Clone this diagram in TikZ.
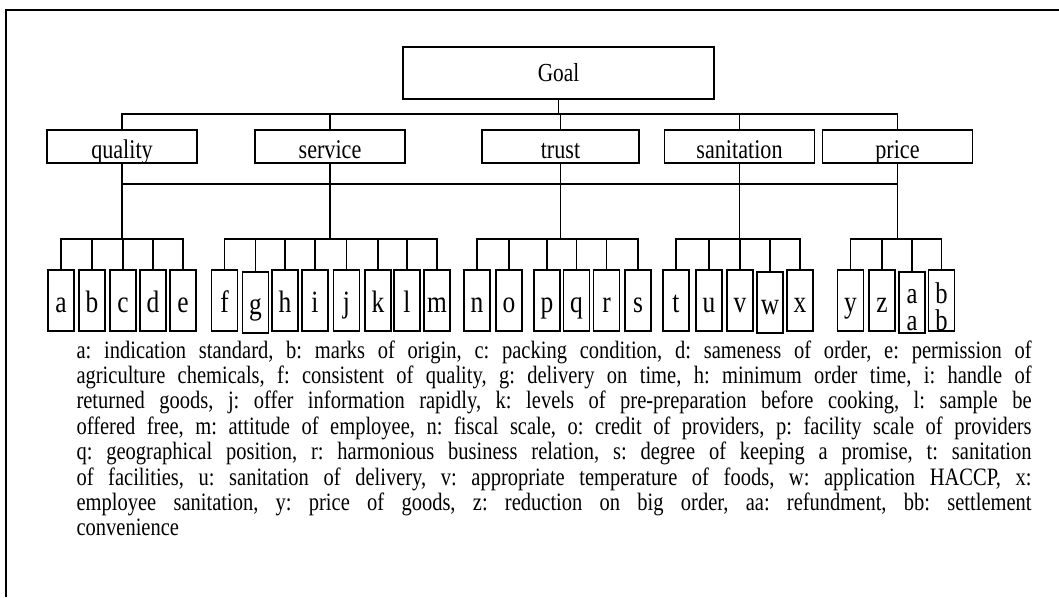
\documentclass[tikz,border=0pt]{standalone}
\usepackage{fontspec}
\setmainfont[FakeStretch=0.82]{Liberation Serif}
\usetikzlibrary{calc}
\tolerance=9999
\hbadness=10000
\frenchspacing

\begin{document}
\begin{tikzpicture}[x=1pt, y=-1pt, line width=1.1pt, black,
    goalbox/.style={draw, minimum width=311pt, minimum height=52pt, inner sep=0pt,
        font=\fontsize{26}{30}\selectfont},
    critbox/.style={draw, minimum width=150pt, minimum height=33pt, inner sep=0pt,
        text height=24pt, text depth=0pt, font=\fontsize{27}{30}\selectfont},
    leaf/.style={draw, minimum width=26pt, minimum height=61pt, inner sep=0pt,
        text height=23pt, text depth=0pt, font=\fontsize{31}{34}\selectfont},
    twoleaf/.style={draw, minimum width=26pt, minimum height=61pt, inner sep=0pt,
        align=center, text height=59pt, text depth=0pt, font=\fontsize{30}{27}\selectfont}]

    \useasboundingbox (0,0) rectangle (1059,597);

    %frame
    \draw[line width=1.3pt] (6,597) -- (6,10) -- (1059,10);

    %goal and criteria
    \node[goalbox] (goal) at (558.5,73) {Goal};
    \node[critbox] (quality) at (122,146.5) {quality};
    \node[critbox] (service) at (330,146.5) {service};
    \node[critbox, minimum width=157pt] (trust) at (560.5,146.5) {trust};
    \node[critbox] (sanit) at (739.5,146.5) {sanitation};
    \node[critbox] (price) at (897.5,146.5) {price};

    %coordinates
    \coordinate (topbus) at (558.5,114); % goal bus
    \coordinate (lowbus) at (122,184); % criteria bus
    \coordinate (barQ) at (122,239); % quality
    \coordinate (barS) at (330,239); % service
    \coordinate (barT) at (560.5,239); % trust
    \coordinate (barN) at (739.5,239); % sanitation
    \coordinate (barP) at (897.5,239); % price

    %items
    \foreach \n/\x in {a/61,b/92,c/123,d/153,e/183,
                       f/224.5,h/285,i/315,j/346.5,k/378,l/407,m/437,
                       n/477,o/509,p/547,q/576.5,r/606.5,s/638,
                       t/676,u/709,v/740,x/800,y/850.5,z/882}
        \node[leaf] (\n) at (\x,300.5) {\n};
    \node[leaf] (g) at (255.5,302.5) {g};
    \node[leaf] (w) at (770,302.5) {w};
    \node[twoleaf, text height=55pt] (aa) at (912,302.5) {a\\a};
    \node[twoleaf] (bb) at (941.5,300.5) {b\\b};

    %goal to criteria
    \draw (goal) -- (topbus);
    \foreach \c in {quality,service,trust,sanit,price}
        \draw (\c.north) |- (topbus);

    %criteria to item bars
    \draw (quality.south) -- (barQ);
    \draw (service.south) -- (barS);
    \draw (trust.south) -- (barT);
    \draw (sanit.south) -- (barN);
    \draw (price.south) -- (barP);
    \draw (lowbus) -- (lowbus -| price.south);

    %bars to items
    \foreach \n in {a,b,c,d,e}
        \draw (\n.north) |- (barQ);
    \foreach \n in {f,g,h,i,j,k,l,m}
        \draw (\n.north) |- (barS);
    \foreach \n in {n,o,p,q,r,s}
        \draw (\n.north) |- (barT);
    \foreach \n in {t,u,v,w,x}
        \draw (\n.north) |- (barN);
    \foreach \n in {y,z,aa,bb}
        \draw (\n.north) |- (barP);

    %legend
    \node[anchor=north west, inner sep=0pt, text width=955pt, align=justify,
        font=\fontsize{25}{25.4}\selectfont] (legend) at (76,340)
    {a: indication standard, b: marks of origin, c: packing condition, d: sameness of order, e: permission of\linebreak
     agriculture chemicals, f: consistent of quality, g: delivery on time, h: minimum order time, i: handle of\linebreak
     returned goods, j: offer information rapidly, k: levels of pre-preparation before cooking, l: sample be\linebreak
     offered free, m: attitude of employee, n: fiscal scale, o: credit of providers, p: facility scale of providers\linebreak
     q: geographical position, r: harmonious business relation, s: degree of keeping a promise, t: sanitation\linebreak
     of facilities, u: sanitation of delivery, v: appropriate temperature of foods, w: application HACCP, x:\linebreak
     employee sanitation, y: price of goods, z: reduction on big order, aa: refundment, bb: settlement\linebreak
     convenience};

\end{tikzpicture}
\end{document}
